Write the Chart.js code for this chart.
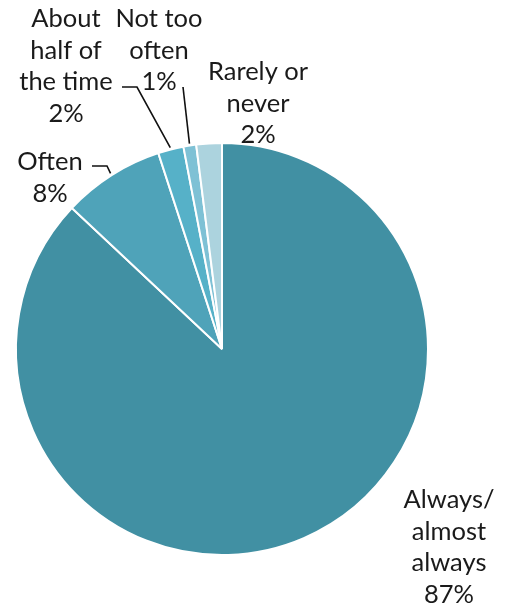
<!DOCTYPE html>
<html>
<head>
<meta charset="utf-8">
<script src="https://cdn.jsdelivr.net/npm/chart.js@4.4.1/dist/chart.umd.min.js"></script>
<style>
  html, body { margin: 0; padding: 0; background: #fff; }
  #wrap { width: 512px; height: 610px; position: relative; }
</style>
</head>
<body>
<div id="wrap"><canvas id="chartPie" width="512" height="610"></canvas></div>
<script>
// Data
const categories = ['Always/ almost always', 'Often', 'About half of the time', 'Not too often', 'Rarely or never'];
const shares = [87, 8, 2, 1, 2];
const labelLines = [
    ['Always/', 'almost', 'always'],
    ['Often'],
    ['About', 'half of', 'the time'],
    ['Not too', 'often'],
    ['Rarely or', 'never']
];
const sliceColors = ['#4190a3', '#4fa3b9', '#56b1c8', '#7ec1d5', '#acd3de'];

// Where each label block sits (x centre, first baseline y) and its leader line
const labelPlacement = [
    { x: 449, y: 508, leader: null },
    { x: 50, y: 170, leader: [[92, 166], [107, 166]] },
    { x: 66, y: 27, leader: [[122, 87], [137, 87]] },
    { x: 159, y: 27, leader: [[183, 87]] },
    { x: 258, y: 80, leader: null }
];

const outsideLabels = {
    id: 'outsideLabels',
    afterDatasetsDraw(chart) {
        const ctx = chart.ctx;
        const arcs = chart.getDatasetMeta(0).data;
        ctx.save();
        ctx.font = '25.5px Lato, "Noto Sans", sans-serif';
        ctx.fillStyle = '#1a1a1a';
        ctx.textAlign = 'center';
        ctx.textBaseline = 'alphabetic';
        const lh = 31.5;
        labelPlacement.forEach((p, i) => {
            const lines = labelLines[i].concat([shares[i] + '%']);
            lines.forEach((t, k) => ctx.fillText(t, p.x, p.y + k * lh));
            if (p.leader) {
                const a = arcs[i];
                const mid = (a.startAngle + a.endAngle) / 2;
                const ex = a.x + Math.cos(mid) * (a.outerRadius + 2);
                const ey = a.y + Math.sin(mid) * (a.outerRadius + 2);
                ctx.beginPath();
                ctx.strokeStyle = '#111';
                ctx.lineWidth = 1.6;
                ctx.moveTo(p.leader[0][0], p.leader[0][1]);
                p.leader.slice(1).forEach(pt => ctx.lineTo(pt[0], pt[1]));
                ctx.lineTo(ex, ey);
                ctx.stroke();
            }
        });
        ctx.restore();
    }
};

new Chart(document.getElementById('chartPie').getContext('2d'), {
    type: 'pie',
    data: {
        labels: categories,
        datasets: [{
            data: shares,
            backgroundColor: sliceColors,
            borderColor: '#ffffff',
            borderWidth: 2
        }]
    },
    options: {
        responsive: false,
        animation: false,
        layout: { padding: { left: 15, right: 83, top: 142, bottom: 54 } },
        plugins: {
            legend: { display: false },
            tooltip: { enabled: false }
        }
    },
    plugins: [outsideLabels]
});
</script>
</body>
</html>
